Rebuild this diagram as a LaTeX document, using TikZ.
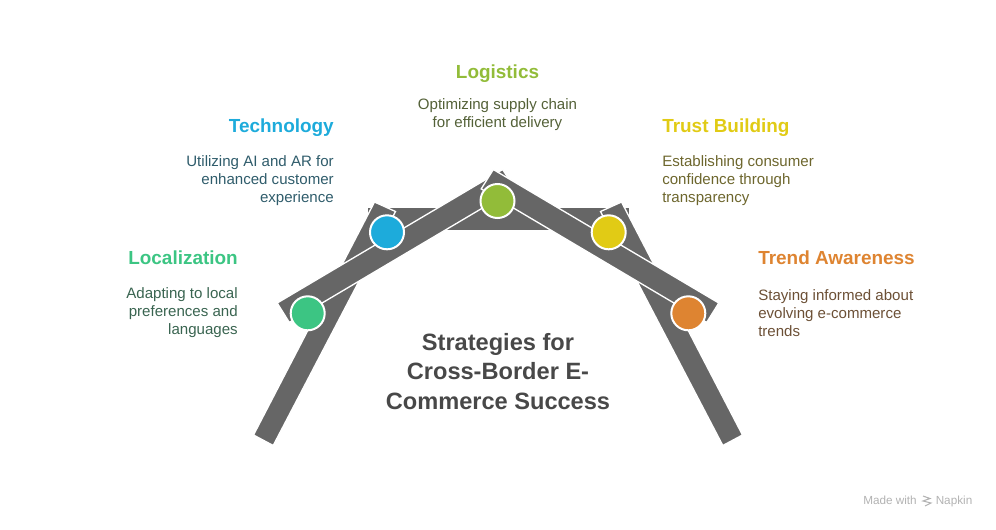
\documentclass[tikz,border=0pt]{standalone}
\usepackage{fontspec}
\setmainfont{Liberation Sans}
\usepackage{xcolor}
\definecolor{bandgray}{HTML}{666666}
\definecolor{titlegray}{HTML}{484848}
\definecolor{locgreen}{HTML}{3CC583}
\definecolor{techblue}{HTML}{1DABDB}
\definecolor{logolive}{HTML}{92BC39}
\definecolor{trustyellow}{HTML}{E1CB15}
\definecolor{trendorange}{HTML}{DE8431}
\tikzset{
  band/.style={fill=bandgray,draw=white,line width=1pt,line join=miter},
  dot/.style={circle,draw=white,line width=1.5pt,minimum size=25.5pt,inner sep=0pt},
  heading/.style={inner sep=0pt,font=\fontsize{14.2}{17}\selectfont\bfseries},
  body/.style={inner sep=0pt,font=\fontsize{11.3}{13.5}\selectfont},
  footer/.style={inner sep=0pt,text=black!30,font=\fontsize{8.8}{10}\selectfont},
}
\begin{document}
\begin{tikzpicture}[x=0.75pt,y=-0.75pt]
\useasboundingbox (0,0) rectangle (996,529);

\fill[bandgray] (367.5,207.7) rectangle (628.5,229.7);

\draw[band] (253.5,435) -- (374.5,202) -- (395.5,211.5) -- (273.2,445.5) -- cycle;
\draw[band] (742.5,435) -- (621.5,202) -- (600.5,211.5) -- (722.8,445.5) -- cycle;

\draw[band] (277.2,303) -- (502.7,169.5) -- (514.8,188.9) -- (289.3,322.4) -- cycle;
\draw[band] (718.8,303) -- (493.3,169.5) -- (481.2,188.9) -- (706.7,322.4) -- cycle;

\node[dot,fill=locgreen] (d1) at (307.7,313.3) {};
\node[dot,fill=techblue] (d2) at (387,232.3) {};
\node[dot,fill=logolive] (d3) at (497.5,201) {};
\node[dot,fill=trustyellow] (d4) at (608.7,232.3) {};
\node[dot,fill=trendorange] (d5) at (688.3,313.3) {};

\node[heading,anchor=east,text=locgreen] (h1) at (238,258) {Localization};
\node[body,anchor=east,align=right,text=black!55!locgreen!70!gray] (b1) at (238,313) {Adapting to local\\preferences and\\languages};

\node[heading,anchor=east,text=techblue] (h2) at (334,127.5) {Technology};
\node[body,anchor=east,align=right,text=black!55!techblue!70!gray] (b2) at (334,181) {Utilizing AI and AR for\\enhanced customer\\experience};

\node[heading,text=logolive] (h3) at (497.5,73.5) {Logistics};
\node[body,align=center,text=black!55!logolive!70!gray] (b3) at (497.5,115) {Optimizing supply chain\\for efficient delivery};

\node[heading,anchor=west,text=trustyellow] (h4) at (662,127.5) {Trust Building};
\node[body,anchor=west,align=left,text=black!55!trustyellow!70!gray] (b4) at (662,181) {Establishing consumer\\confidence through\\transparency};

\node[heading,anchor=west,text=trendorange] (h5) at (758,258) {Trend Awareness};
\node[body,anchor=west,align=left,text=black!55!trendorange!70!gray] (b5) at (758,313) {Staying informed about\\evolving e-commerce\\trends};

\node[inner sep=0pt,align=center,text=titlegray,font=\fontsize{17.7}{22.2}\selectfont\bfseries] (title) at (498,371.5) {Strategies for\\Cross-Border E-\\Commerce Success};

\node[footer,anchor=base east] (made) at (917,504) {Made with};
\node[footer,anchor=base west] (napkin) at (935.5,504) {Napkin};
\draw[black!30,line width=0.8pt] (923,496) -- (930,498.5) -- (923,501) -- (931,503) -- (925,506);
\end{tikzpicture}
\end{document}
